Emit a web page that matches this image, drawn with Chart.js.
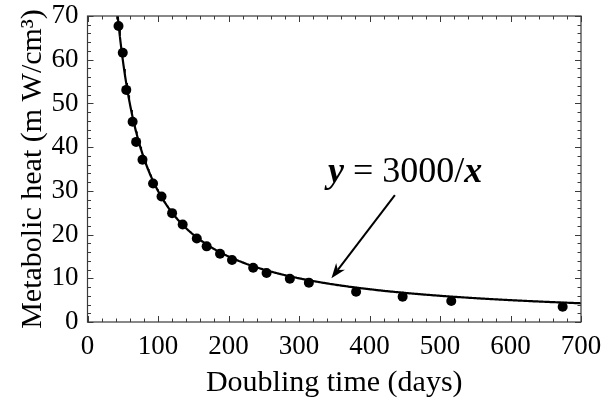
<!DOCTYPE html>
<html lang="en">
<head>
<meta charset="UTF-8">
<title>Metabolic heat vs doubling time</title>
<script src="https://cdn.jsdelivr.net/npm/chart.js"></script>
<style>
  html, body { margin: 0; padding: 0; background: #fff; }
  #wrap { width: 604px; height: 402px; }
</style>
</head>
<body>
<div id="wrap"><canvas id="heatChart" width="604" height="402"></canvas></div>
<script>
// measured doubling times (days) and metabolic heat (mW/cm^3)
const doublingDays = [44, 50, 55, 64, 69, 78, 93, 105, 120, 135, 155, 169, 188, 205, 235, 254, 287, 314, 381, 447, 516, 674];
const metabolicHeat = [67.7, 61.6, 53.1, 45.8, 41.2, 37.1, 31.7, 28.7, 24.9, 22.3, 19.1, 17.3, 15.6, 14.2, 12.4, 11.2, 9.9, 9.0, 6.9, 5.8, 4.8, 3.5];

// fitted model y = FIT_K / x
const FIT_K = 3000;

const xTicks = [0, 100, 200, 300, 400, 500, 600, 700];
const yTicks = [0, 10, 20, 30, 40, 50, 60, 70];
const xMinorStep = 20;
const yMinorStep = 2;

const SERIF = "'Liberation Serif', 'Times New Roman', serif";

const points = doublingDays.map((d, i) => ({ x: d, y: metabolicHeat[i] }));

// sample the fitted curve across the visible range
const curve = [];
for (let x = FIT_K / yTicks[yTicks.length - 1]; x < xTicks[xTicks.length - 1]; x += 1) {
  curve.push({ x: x, y: FIT_K / x });
}
curve.push({ x: xTicks[xTicks.length - 1], y: FIT_K / xTicks[xTicks.length - 1] });

// label + arrow placed in data units
const note = {
  textAt: { x: 341, y: 32.0 },
  arrowFrom: { x: 436, y: 29.0 },
  arrowTo: { x: 346, y: 10.0 }
};

// keep the plot box fixed regardless of label overhang
const noPad = s => { s.paddingTop = 0; s.paddingBottom = 0; s.paddingLeft = 0; s.paddingRight = 0; };

// frame with inward ticks on all four sides
const framePlugin = {
  id: 'frame',
  afterDraw(chart) {
    const { ctx, chartArea: a, scales: { x, y } } = chart;
    ctx.save();
    ctx.strokeStyle = '#3a3a3a';
    ctx.lineWidth = 1.2;
    ctx.strokeRect(a.left, a.top, a.right - a.left, a.bottom - a.top);
    ctx.lineWidth = 1;
    ctx.beginPath();
    for (let v = x.min; v <= x.max + 0.001; v += xMinorStep) {
      const px = Math.round(x.getPixelForValue(v)) + 0.5;
      const len = v % 100 === 0 ? 6 : 3.5;
      ctx.moveTo(px, a.bottom); ctx.lineTo(px, a.bottom - len);
      ctx.moveTo(px, a.top); ctx.lineTo(px, a.top + len);
    }
    for (let v = y.min; v <= y.max + 0.001; v += yMinorStep) {
      const py = Math.round(y.getPixelForValue(v)) + 0.5;
      const len = v % 10 === 0 ? 6 : 3.5;
      ctx.moveTo(a.left, py); ctx.lineTo(a.left + len, py);
      ctx.moveTo(a.right, py); ctx.lineTo(a.right - len, py);
    }
    ctx.stroke();
    ctx.restore();
  }
};

const notePlugin = {
  id: 'note',
  afterDatasetsDraw(chart) {
    const { ctx, scales: { x, y } } = chart;
    ctx.save();
    // text: italic bold variables, upright numbers
    let tx = x.getPixelForValue(note.textAt.x);
    const ty = y.getPixelForValue(note.textAt.y);
    ctx.fillStyle = '#000';
    ctx.textBaseline = 'alphabetic';
    const parts = [
      ['y', 'italic bold 36px ' + SERIF],
      [' = 3000/', '36px ' + SERIF],
      ['x', 'italic bold 36px ' + SERIF]
    ];
    parts.forEach(([t, f]) => {
      ctx.font = f;
      ctx.fillText(t, tx, ty);
      tx += ctx.measureText(t).width;
    });

    // arrow
    const x0 = x.getPixelForValue(note.arrowFrom.x), y0 = y.getPixelForValue(note.arrowFrom.y);
    const x1 = x.getPixelForValue(note.arrowTo.x), y1 = y.getPixelForValue(note.arrowTo.y);
    const ang = Math.atan2(y1 - y0, x1 - x0);
    const headLen = 15, headW = 5.5;
    ctx.strokeStyle = '#000';
    ctx.lineWidth = 2;
    ctx.beginPath();
    ctx.moveTo(x0, y0);
    ctx.lineTo(x1 - Math.cos(ang) * headLen * 0.7, y1 - Math.sin(ang) * headLen * 0.7);
    ctx.stroke();
    ctx.translate(x1, y1);
    ctx.rotate(ang);
    ctx.beginPath();
    ctx.moveTo(0, 0);
    ctx.lineTo(-headLen, -headW);
    ctx.lineTo(-headLen * 0.7, 0);
    ctx.lineTo(-headLen, headW);
    ctx.closePath();
    ctx.fill();
    ctx.restore();
  }
};

new Chart(document.getElementById('heatChart'), {
  type: 'scatter',
  data: {
    datasets: [
      {
        type: 'line',
        data: curve,
        borderColor: '#000',
        borderWidth: 2.2,
        pointRadius: 0,
        tension: 0,
        fill: false
      },
      {
        data: points,
        backgroundColor: '#000',
        borderWidth: 0,
        pointRadius: 5
      }
    ]
  },
  options: {
    responsive: false,
    animation: false,
    devicePixelRatio: 1,
    layout: { padding: { top: 16, right: 23, left: 0, bottom: 0 } },
    plugins: { legend: { display: false }, tooltip: { enabled: false } },
    scales: {
      x: {
        type: 'linear',
        min: 0,
        max: 700,
        grid: { display: false, drawTicks: false },
        border: { display: false },
        afterBuildTicks: s => { s.ticks = xTicks.map(v => ({ value: v })); },
        afterFit: s => { s.height = 80; noPad(s); },
        ticks: {
          color: '#000',
          padding: 9,
          maxRotation: 0,
          font: { family: SERIF, size: 27 }
        },
        title: {
          display: true,
          text: 'Doubling time (days)',
          color: '#000',
          padding: { top: 0, bottom: 1 },
          font: { family: SERIF, size: 30 }
        }
      },
      y: {
        type: 'linear',
        min: 0,
        max: 70,
        grid: { display: false, drawTicks: false },
        border: { display: false },
        afterBuildTicks: s => { s.ticks = yTicks.map(v => ({ value: v })); },
        afterFit: s => { s.width = 87.5; noPad(s); },
        ticks: {
          color: '#000',
          padding: 9,
          font: { family: SERIF, size: 27 }
        },
        title: {
          display: true,
          text: 'Metabolic heat (m W/cm³)',
          color: '#000',
          padding: { top: 15, bottom: 0 },
          font: { family: SERIF, size: 30 }
        }
      }
    }
  },
  plugins: [framePlugin, notePlugin]
});
</script>
</body>
</html>
